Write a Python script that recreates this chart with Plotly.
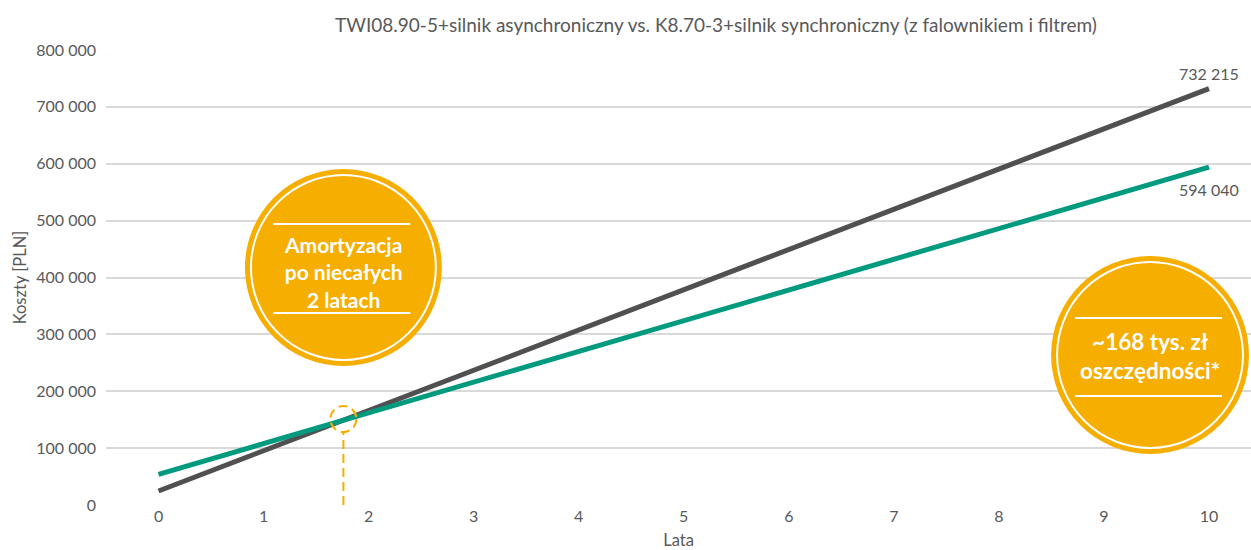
import plotly.graph_objects as go

years = [0, 1, 2, 3, 4, 5, 6, 7, 8, 9, 10]
async_costs = [24600, 95400, 166100, 236900, 307600, 378400, 449200, 519900, 590700, 661400, 732215]
sync_costs = [54000, 108000, 162000, 216000, 270000, 324000, 378000, 432000, 486000, 540000, 594040]
y_ticks = [0, 100000, 200000, 300000, 400000, 500000, 600000, 700000, 800000]
y_tick_text = ["0", "100 000", "200 000", "300 000", "400 000", "500 000", "600 000", "700 000", "800 000"]
end_labels = ["732 215", "594 040"]
breakeven_year = 1.76
title = "TWI08.90-5+silnik asynchroniczny vs. K8.70-3+silnik synchroniczny (z falownikiem i filtrem)"

W, H = 1251, 550
L, R, T, B = 105.5, 0, 50, 45
PW, PH = W - L - R, H - T - B
ORANGE = "#F6AE00"
TXT = "#595959"
FONT = "Lato, sans-serif"
BOLD = "Lato, sans-serif"

def px(x):
    return (x - L) / PW

def py(y):
    return (H - B - y) / PH

fig = go.Figure()
fig.add_trace(go.Scatter(x=years, y=async_costs, mode="lines",
                         line=dict(color="#505050", width=5), showlegend=False))
fig.add_trace(go.Scatter(x=years, y=sync_costs, mode="lines",
                         line=dict(color="#009B7E", width=5), showlegend=False))

shapes = []
annotations = []

def badge(cx, cy, r, lines_y, line_x, text, text_y, size):
    shapes.append(dict(type="circle", xref="paper", yref="paper",
                       x0=px(cx - r), x1=px(cx + r), y0=py(cy + r), y1=py(cy - r),
                       fillcolor=ORANGE, line=dict(width=0), layer="above"))
    r2 = r - 6
    shapes.append(dict(type="circle", xref="paper", yref="paper",
                       x0=px(cx - r2), x1=px(cx + r2), y0=py(cy + r2), y1=py(cy - r2),
                       fillcolor="rgba(0,0,0,0)", line=dict(color="white", width=2), layer="above"))
    for ly in lines_y:
        shapes.append(dict(type="line", xref="paper", yref="paper",
                           x0=px(line_x[0]), x1=px(line_x[1]), y0=py(ly), y1=py(ly),
                           line=dict(color="white", width=2), layer="above"))
    annotations.append(dict(xref="paper", yref="paper", x=px(cx), y=py(text_y),
                            text=text, showarrow=False, align="center",
                            font=dict(family=BOLD, size=size, color="white", weight="bold"),
                            xanchor="center", yanchor="middle"))

badge(343, 267.5, 98.5, [224, 313], [273, 410],
      "Amortyzacja<br>po niecałych<br>2 latach", 272, 21)
badge(1150, 355, 99, [318, 396], [1075, 1222],
      "~168 tys. zł<br>oszczędności*", 356, 22.5)

# breakeven marker
shapes.append(dict(type="circle", xref="paper", yref="paper",
                   x0=px(343 - 13), x1=px(343 + 13), y0=py(419 + 13), y1=py(419 - 13),
                   line=dict(color=ORANGE, width=2, dash="9px,5px"), layer="above"))
shapes.append(dict(type="line", xref="x", yref="paper",
                   x0=breakeven_year, x1=breakeven_year, y0=0, y1=py(432),
                   line=dict(color=ORANGE, width=2, dash="9px,5px"), layer="above"))

annotations.append(dict(x=years[-1], y=async_costs[-1], text=end_labels[0], showarrow=False,
                        yshift=15, font=dict(family=FONT, size=16, color=TXT)))
annotations.append(dict(x=years[-1], y=sync_costs[-1], text=end_labels[1], showarrow=False,
                        yshift=-22, font=dict(family=FONT, size=16, color=TXT)))

fig.update_layout(
    width=W, height=H,
    margin=dict(l=L, r=R, t=T, b=B, pad=0),
    paper_bgcolor="white", plot_bgcolor="white",
    title=dict(text=title, x=716 / W, xanchor="center", xref="container", y=1 - 25 / H, yanchor="middle",
               font=dict(family=FONT, size=19, color=TXT)),
    xaxis=dict(range=[-0.5, 10.4], tickvals=years, ticktext=[str(v) for v in years],
               showgrid=False, zeroline=False, showline=False, ticks="",
               tickfont=dict(family=FONT, size=16, color=TXT),
               title=dict(text="Lata", font=dict(family=FONT, size=16.5, color=TXT), standoff=12)),
    yaxis=dict(range=[0, 800000], tickvals=y_ticks, ticktext=y_tick_text,
               showgrid=True, gridcolor="#D9D9D9", gridwidth=1.5, zeroline=False,
               ticks="", ticklabelstandoff=9,
               tickfont=dict(family=FONT, size=16, color=TXT),
               title=dict(text="Koszty [PLN]", font=dict(family=FONT, size=16.5, color=TXT), standoff=5)),
    shapes=shapes, annotations=annotations,
)

fig.write_html("out.html", post_script="document.body.style.margin='0';",
               config={"displayModeBar": False})
